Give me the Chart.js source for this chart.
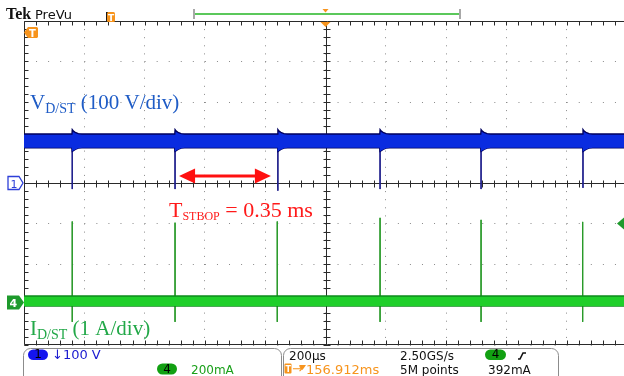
<!DOCTYPE html>
<html><head><meta charset="utf-8">
<script src="https://cdn.jsdelivr.net/npm/chart.js@4.4.1/dist/chart.umd.min.js"></script>
<style>
html,body{margin:0;padding:0;background:#fff;overflow:hidden;width:624px;height:376px}
#wrap{position:relative;width:630px;height:376px}
canvas{display:block}
</style></head>
<body><div id="wrap"><canvas id="c" width="630" height="376"></canvas></div>
<script>
// ---- scope settings ----
const xMinUs = -1000, xMaxUs = 1000, xStepUs = 200;      // 200 µs/div, 10 div
const yMinDiv = -4, yMaxDiv = 4;                          // 8 vertical div
const ch1VoltsPerDiv = 100, ch1OffsetDiv = 0;
const ch4AmpsPerDiv = 1, ch4OffsetDiv = -2.95;

// ---- CH1 : V_D/ST ----
const ch1SpikeTimesUs   = [-840, -499, -158, 181, 516, 854];
const ch1SpikeBottomV   = [-15, -15, -19, -15, -15, -12];
const ch1LevelV         = 104;
const ch1BandTopV       = 121;
const ch1BandBottomV    = 87;
const ch1RingOffsetsUs  = [0, 4, 10, 20, 32];
const ch1RingTopV       = [132, 128, 125, 122, 121];
const ch1RingBottomV    = [78, 80, 83, 86, 87];

// ---- CH4 : I_D/ST ----
const ch4SpikeTimesUs   = [-840, -499, -160, 181, 516, 853];
const ch4SpikeTopA      = [2.0, 1.97, 2.0, 2.09, 2.04, 1.99];
const ch4SpikeBottomA   = [-0.48, -0.48, -0.48, -0.48, -0.48, -0.48];
const ch4BandTopA       = 0.16;
const ch4BandBottomA    = -0.09;

// ---- readouts ----
const ch1ScaleText = "100 V";
const ch4ScaleText = "200mA";
const timebaseText = "200µs";
const sampleRateText = "2.50GS/s";
const recordText = "5M points";
const triggerLevelText = "392mA";
const triggerPosText = "156.912ms";

const v2d = v => v / ch1VoltsPerDiv + ch1OffsetDiv;
const a2d = a => a / ch4AmpsPerDiv + ch4OffsetDiv;

function ch1Envelope(baseV, ringV) {
  const pts = [{x: xMinUs, y: v2d(baseV)}];
  ch1SpikeTimesUs.forEach(t => {
    pts.push({x: t - 1, y: v2d(baseV)});
    ch1RingOffsetsUs.forEach((o, k) => pts.push({x: t + o, y: v2d(ringV[k])}));
  });
  pts.push({x: xMaxUs, y: v2d(baseV)});
  return pts;
}
const ch1Spikes = [];
ch1SpikeTimesUs.forEach((t, i) => {
  ch1Spikes.push({x: t, y: v2d(ch1LevelV)}, {x: t, y: v2d(ch1SpikeBottomV[i])}, {x: t, y: null});
});
const ch4Spikes = [];
ch4SpikeTimesUs.forEach((t, i) => {
  ch4Spikes.push({x: t, y: a2d(ch4SpikeTopA[i])}, {x: t, y: a2d(ch4SpikeBottomA[i])}, {x: t, y: null});
});
const ch4Top = [{x: xMinUs, y: a2d(ch4BandTopA)}, {x: xMaxUs, y: a2d(ch4BandTopA)}];
const ch4Bot = [{x: xMinUs, y: a2d(ch4BandBottomA)}, {x: xMaxUs, y: a2d(ch4BandBottomA)}];

function pill(ctx, x, y, w, h, fill, txt, txtColor) {
  ctx.beginPath(); ctx.roundRect(x, y, w, h, h / 2); ctx.fillStyle = fill; ctx.fill();
  ctx.fillStyle = txtColor; ctx.font = '12px "DejaVu Sans"'; ctx.textAlign = 'center'; ctx.textBaseline = 'middle';
  ctx.fillText(txt, x + w / 2, y + h / 2 + 0.5);
  ctx.textAlign = 'left'; ctx.textBaseline = 'alphabetic';
}

const scopePlugin = {
  id: 'scope',
  beforeDatasetsDraw(chart) {
    const ctx = chart.ctx, a = chart.chartArea, xs = chart.scales.x, ys = chart.scales.y;
    ctx.save();
    ctx.strokeStyle = '#2a2a2a'; ctx.lineWidth = 1;
    const x0 = Math.round(xs.getPixelForValue(0)) + 0.5;
    const y0 = Math.round(ys.getPixelForValue(0)) + 0.5;
    const L = Math.round(a.left) + 0.5, T = Math.round(a.top) + 0.5, B = Math.round(a.bottom) - 0.5;
    ctx.beginPath();
    ctx.moveTo(L, T); ctx.lineTo(a.right + 5, T);
    ctx.moveTo(L, T); ctx.lineTo(L, B);
    ctx.moveTo(L, B); ctx.lineTo(a.right + 5, B);
    ctx.moveTo(a.left, y0); ctx.lineTo(a.right + 5, y0);
    ctx.moveTo(x0, a.top); ctx.lineTo(x0, a.bottom);
    for (let v = xMinUs; v <= xMaxUs; v += xStepUs / 5) {
      const px = Math.round(xs.getPixelForValue(v)) + 0.5;
      ctx.moveTo(px, T); ctx.lineTo(px, T + 4);
      ctx.moveTo(px, B); ctx.lineTo(px, B - 4);
      ctx.moveTo(px, y0 - 3); ctx.lineTo(px, y0 + 4);
    }
    for (let v = yMinDiv; v <= yMaxDiv; v += 0.2) {
      const py = Math.round(ys.getPixelForValue(v)) + 0.5;
      ctx.moveTo(L, py); ctx.lineTo(L + 4, py);
      ctx.moveTo(x0 - 3, py); ctx.lineTo(x0 + 4, py);
    }
    ctx.stroke();
    ctx.restore();
  },
  afterDraw(chart) {
    const ctx = chart.ctx, a = chart.chartArea, xs = chart.scales.x, ys = chart.scales.y;
    ctx.save();
    const xc = xs.getPixelForValue(0);
    // header
    ctx.fillStyle = '#111';
    ctx.font = 'bold 16px "Liberation Serif"';
    ctx.fillText('Tek', 6, 19);
    ctx.font = '13px "DejaVu Sans"';
    ctx.fillText('PreVu', 35, 19);
    // small orange T near header
    ctx.fillStyle = '#1a1a1a'; ctx.fillRect(106, 12, 2, 10);
    ctx.fillStyle = '#f7941d'; ctx.beginPath(); ctx.roundRect(107, 12, 8, 10, 1.5); ctx.fill();
    ctx.fillStyle = '#fff'; ctx.font = 'bold 9px "DejaVu Sans"'; ctx.fillText('T', 108, 20.5);
    // PreVu record bar
    ctx.strokeStyle = '#5bc85b'; ctx.lineWidth = 2;
    ctx.beginPath(); ctx.moveTo(194, 14); ctx.lineTo(459, 14); ctx.stroke();
    ctx.fillStyle = '#a8a8a8'; ctx.fillRect(193, 9, 2, 10); ctx.fillRect(459, 9, 2, 10);
    // trigger position triangles
    ctx.fillStyle = '#f7941d';
    ctx.beginPath(); ctx.moveTo(xc - 3, 9); ctx.lineTo(xc + 3, 9); ctx.lineTo(xc, 12.5); ctx.closePath(); ctx.fill();
    ctx.beginPath(); ctx.moveTo(xc - 5, 22); ctx.lineTo(xc + 5, 22); ctx.lineTo(xc, 27); ctx.closePath(); ctx.fill();
    // orange T marker at left
    ctx.beginPath(); ctx.moveTo(24, 32.5); ctx.lineTo(28, 27); ctx.lineTo(37, 27); ctx.lineTo(38, 28); ctx.lineTo(38, 37); ctx.lineTo(37, 38); ctx.lineTo(28, 38); ctx.closePath(); ctx.fill();
    ctx.fillStyle = '#fff'; ctx.font = 'bold 10px "DejaVu Sans"'; ctx.fillText('T', 29, 37);
    // ch1 marker
    const y1 = ys.getPixelForValue(ch1OffsetDiv);
    ctx.fillStyle = '#fff'; ctx.strokeStyle = '#2d3fd8'; ctx.lineWidth = 1.3;
    ctx.beginPath(); ctx.moveTo(8, y1 - 6.5); ctx.lineTo(19, y1 - 6.5); ctx.lineTo(23, y1); ctx.lineTo(19, y1 + 6.5); ctx.lineTo(8, y1 + 6.5); ctx.closePath(); ctx.fill(); ctx.stroke();
    ctx.fillStyle = '#2d3fd8'; ctx.font = '11px "DejaVu Sans"'; ctx.fillText('1', 10.5, y1 + 4.5);
    // ch4 marker
    const y4 = ys.getPixelForValue(ch4OffsetDiv);
    ctx.fillStyle = '#1e9a2c';
    ctx.beginPath(); ctx.moveTo(7, y4 - 7); ctx.lineTo(19, y4 - 7); ctx.lineTo(24, y4); ctx.lineTo(19, y4 + 7); ctx.lineTo(7, y4 + 7); ctx.closePath(); ctx.fill();
    ctx.fillStyle = '#fff'; ctx.font = 'bold 11px "DejaVu Sans"'; ctx.fillText('4', 9.5, y4 + 4.5);
    // right trigger-level marker
    const yt = ys.getPixelForValue(-1.0);
    ctx.fillStyle = '#1e9a2c';
    ctx.beginPath(); ctx.moveTo(617, yt); ctx.lineTo(624, yt - 6); ctx.lineTo(624, yt + 6); ctx.closePath(); ctx.fill();

    // red double arrow
    const ay = ys.getPixelForValue(0.17);
    const ax1 = xs.getPixelForValue(ch1SpikeTimesUs[1]) + 4, ax2 = xs.getPixelForValue(ch1SpikeTimesUs[2]) - 7;
    ctx.strokeStyle = '#ff1010'; ctx.fillStyle = '#ff1010'; ctx.lineWidth = 3;
    ctx.beginPath(); ctx.moveTo(ax1 + 12, ay); ctx.lineTo(ax2 - 12, ay); ctx.stroke();
    ctx.beginPath(); ctx.moveTo(ax1, ay); ctx.lineTo(ax1 + 16, ay - 7.5); ctx.lineTo(ax1 + 16, ay + 7.5); ctx.closePath(); ctx.fill();
    ctx.beginPath(); ctx.moveTo(ax2, ay); ctx.lineTo(ax2 - 16, ay - 7.5); ctx.lineTo(ax2 - 16, ay + 7.5); ctx.closePath(); ctx.fill();

    // labels
    function subLabel(x, y, main, sub, rest, color, big, small, dy) {
      ctx.fillStyle = color;
      ctx.font = big + 'px "Liberation Serif"'; ctx.fillText(main, x, y);
      let w = ctx.measureText(main).width;
      ctx.font = small + 'px "Liberation Serif"'; ctx.fillText(sub, x + w, y + dy);
      w += ctx.measureText(sub).width;
      ctx.font = big + 'px "Liberation Serif"'; ctx.fillText(rest, x + w, y);
    }
    subLabel(30, 109, 'V', 'D/ST', ' (100 V/div)', '#1f5cc6', 21, 14, 4);
    subLabel(169, 217, 'T', 'STBOP', ' = 0.35 ms', '#ff1a1a', 22, 12, 3);
    subLabel(30, 335, 'I', 'D/ST', ' (1 A/div)', '#22a848', 21, 14, 4);

    // readout boxes
    ctx.strokeStyle = '#8c8c8c'; ctx.lineWidth = 1;
    ctx.beginPath(); ctx.roundRect(23.5, 348.5, 258, 40, 7); ctx.stroke();
    ctx.beginPath(); ctx.roundRect(283.5, 348.5, 275, 40, 7); ctx.stroke();
    pill(ctx, 28, 349.5, 20, 10.5, '#1414ee', '1', '#000');
    ctx.fillStyle = '#1a1ad0'; ctx.font = '13px "DejaVu Sans"';
    ctx.fillText('↓' + ch1ScaleText, 52, 359);
    pill(ctx, 157, 363.5, 20, 11, '#12a012', '4', '#000');
    ctx.fillStyle = '#1aa01a'; ctx.fillText(ch4ScaleText, 191, 374);
    ctx.fillStyle = '#111';
    ctx.fillText(timebaseText, 289, 359.5);
    ctx.fillText(sampleRateText, 400, 359.5);
    ctx.fillText(recordText, 400, 374);
    ctx.fillText(triggerLevelText, 488, 374);
    pill(ctx, 485, 349.5, 21, 10.5, '#12a012', '4', '#000');
    ctx.strokeStyle = '#111'; ctx.lineWidth = 1.6;
    ctx.beginPath(); ctx.moveTo(518, 359); ctx.lineTo(520, 359); ctx.lineTo(523, 353); ctx.lineTo(526, 353); ctx.stroke();
    // trigger position readout
    ctx.fillStyle = '#f7941d'; ctx.beginPath(); ctx.roundRect(284.5, 363.5, 7, 10, 1); ctx.fill();
    ctx.fillStyle = '#fff'; ctx.font = 'bold 8px "DejaVu Sans"'; ctx.fillText('T', 285.5, 371.5);
    ctx.fillStyle = '#f7941d'; ctx.font = '13px "DejaVu Sans"';
    ctx.fillText('→', 292, 373);
    ctx.beginPath(); ctx.moveTo(299, 365); ctx.lineTo(306, 365); ctx.lineTo(302.5, 370); ctx.closePath(); ctx.fill();
    ctx.fillText(triggerPosText, 306, 374);
    ctx.restore();
  }
};

new Chart(document.getElementById('c'), {
  type: 'line',
  data: {
    datasets: [
      { data: ch1Envelope(ch1BandTopV, ch1RingTopV), borderColor: '#00005e', borderWidth: 1.3, backgroundColor: '#0a2ce0', fill: '+1' },
      { data: ch1Envelope(ch1BandBottomV, ch1RingBottomV), borderColor: '#00005e', borderWidth: 1.3, fill: false },
      { data: ch1Spikes, borderColor: '#20208c', borderWidth: 1, fill: false, spanGaps: false },
      { data: ch4Top, borderColor: '#0e8a1c', borderWidth: 1.3, backgroundColor: '#1fcf2a', fill: '+1' },
      { data: ch4Bot, borderColor: '#0e8a1c', borderWidth: 1.3, fill: false },
      { data: ch4Spikes, borderColor: '#2a9a2a', borderWidth: 1, fill: false, spanGaps: false }
    ]
  },
  options: {
    responsive: false, animation: false, events: [],
    layout: { padding: { left: 24, top: 21, right: 3, bottom: 31 } },
    elements: { point: { radius: 0 }, line: { tension: 0 } },
    plugins: { legend: { display: false }, tooltip: { enabled: false } },
    scales: {
      x: { type: 'linear', min: xMinUs, max: xMaxUs,
           ticks: { display: false, stepSize: xStepUs },
           grid: { color: '#8a8a8a', lineWidth: 1, drawTicks: false },
           border: { display: false, dash: [1, 7.1] } },
      y: { type: 'linear', min: yMinDiv, max: yMaxDiv,
           ticks: { display: false, stepSize: 1 },
           grid: { color: '#8a8a8a', lineWidth: 1, drawTicks: false },
           border: { display: false, dash: [1, 11.06] } }
    }
  },
  plugins: [scopePlugin]
});
</script>
</body></html>
